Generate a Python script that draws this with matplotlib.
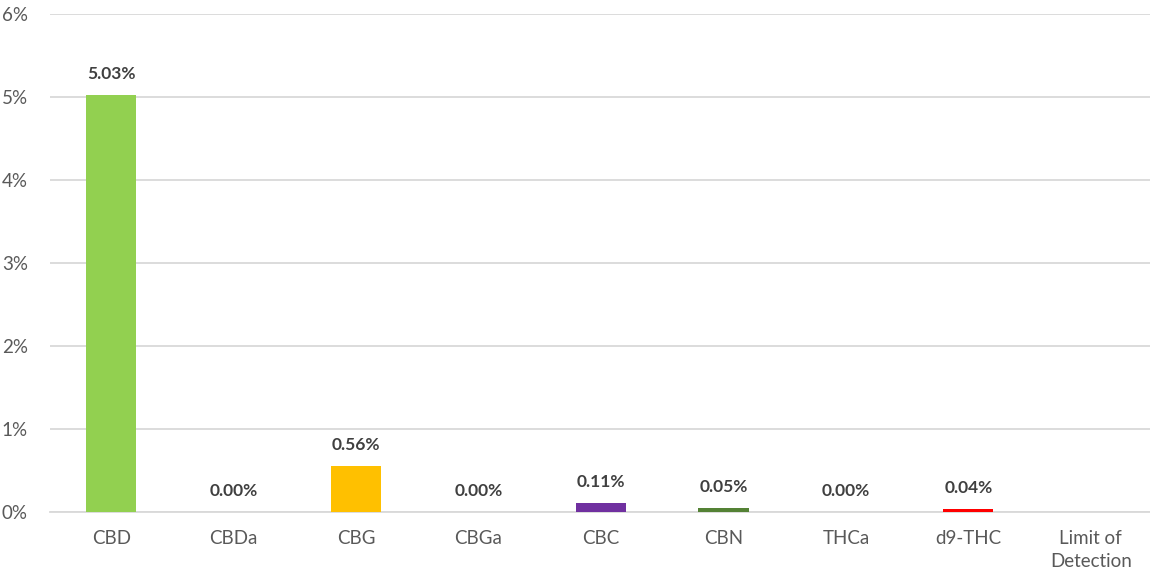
import matplotlib
matplotlib.use("Agg")
import matplotlib.pyplot as plt
from matplotlib.ticker import FuncFormatter, MultipleLocator

categories = ["CBD", "CBDa", "CBG", "CBGa", "CBC", "CBN", "THCa", "d9-THC", "Limit of\nDetection"]
values = [5.03, 0.00, 0.56, 0.00, 0.11, 0.05, 0.00, 0.04, None]
colors = ["#92D050", "#5B9BD5", "#FFC000", "#A5A5A5", "#7030A0", "#548235", "#4472C4", "#FF0000", "#FFFFFF"]

plt.rcParams['font.family'] = ['Lato', 'DejaVu Sans']

fig = plt.figure(figsize=(11.5, 5.76), dpi=100)
ax = fig.add_axes([50/1150, 64/576, 1102/1150, 498/576])

x = list(range(len(categories)))
for i, v in enumerate(values):
    if v is None:
        continue
    ax.bar(i, v, width=0.41, color=colors[i], zorder=3)
    ax.annotate(f"{v:.2f}%", (i, v), xytext=(0, 9), textcoords="offset points",
                ha="center", va="bottom", fontsize=12.5, fontweight="bold", color="#404040")

ax.set_xlim(-0.5, len(categories) - 0.5)
ax.set_ylim(0, 6)
ax.yaxis.set_major_locator(MultipleLocator(1))
ax.yaxis.set_major_formatter(FuncFormatter(lambda v, p: f"{v:.0f}%"))
ax.set_xticks(x)
ax.set_xticklabels(categories, linespacing=1.45)
ax.grid(axis="y", color="#D9D9D9", linewidth=1.3, zorder=0)
for s in ["top", "right", "left"]:
    ax.spines[s].set_visible(False)
ax.spines["bottom"].set_color("#D9D9D9")
ax.spines["bottom"].set_linewidth(1.3)
ax.tick_params(axis="both", length=0, labelsize=13.5, labelcolor="#595959")
ax.tick_params(axis="x", pad=13)
ax.tick_params(axis="y", pad=16)

fig.savefig("out.png", dpi=100)
